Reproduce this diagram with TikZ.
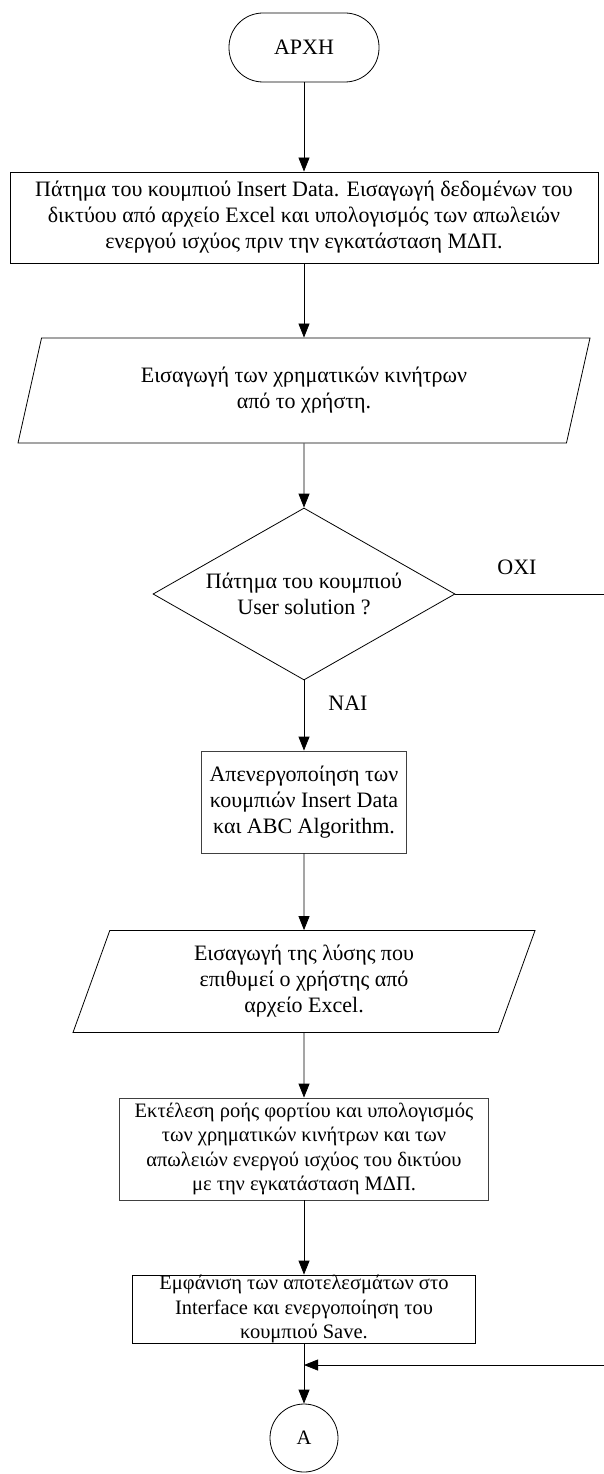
\documentclass[tikz,border=0pt]{standalone}
\usepackage{fontspec}
\setmainfont{Liberation Serif}
\usetikzlibrary{arrows.meta,shapes.geometric}

\begin{document}
\begin{tikzpicture}[x=1pt,y=-1pt,
  every node/.style={font=\fontsize{22}{26}\selectfont,align=center},
  small/.style={font=\fontsize{20.5}{24.5}\selectfont},
  flow/.style={-{Triangle[length=14pt,width=11pt]},line width=0.8pt},
  terminal/.style={draw,line width=0.8pt,rounded corners=34pt,
    minimum width=150pt,minimum height=69pt},
  process/.style={draw,line width=0.8pt,inner sep=0pt},
  inputbox/.style={draw,line width=0.8pt,trapezium,trapezium left angle=63,
    trapezium right angle=117,trapezium stretches body,inner sep=0pt},
  decision/.style={draw,line width=0.8pt,diamond,aspect=1.75,inner sep=0pt,
    minimum width=302pt,minimum height=172pt},
  connector/.style={draw,line width=0.8pt,circle,minimum size=68pt,inner sep=0pt}]
  \useasboundingbox (0,0) rectangle (604,1474);

  % main column
  \node[terminal] (start) at (304,47.5) {ΑΡΧΗ};
  \node[process,minimum width=588pt,minimum height=91pt] (insert) at (304,217.5)
    {Πάτημα του κουμπιού Insert Data. Εισαγωγή δεδομένων του\\
     δικτύου από αρχείο Excel και υπολογισμός των απωλειών\\
     ενεργού ισχύος πριν την εγκατάσταση ΜΔΠ.};
  \node[inputbox,minimum width=572pt,minimum height=105pt] (incent) at (304,390.5)
    {Εισαγωγή των χρηματικών κινήτρων\\από το χρήστη.};
  \node[decision] (userq) at (304,594) {Πάτημα του κουμπιού\\User solution ?};
  \node[process,draw=black!75,minimum width=205pt,minimum height=102pt] (lock) at (304,802)
    {Απενεργοποίηση των\\κουμπιών Insert Data\\και ABC Algorithm.};
  \node[inputbox,minimum width=462pt,minimum height=102pt] (usersol) at (304,981.5)
    {Εισαγωγή της λύσης που\\επιθυμεί ο χρήστης από\\αρχείο Excel.};
  \node[process,small,draw=black!75,minimum width=369pt,minimum height=102pt] (loadflow) at (304,1149)
    {Εκτέλεση ροής φορτίου και υπολογισμός\\των χρηματικών κινήτρων και των\\
     απωλειών ενεργού ισχύος του δικτύου\\με την εγκατάσταση ΜΔΠ.};
  \node[process,small,minimum width=343pt,minimum height=68pt] (results) at (304,1309)
    {Εμφάνιση των αποτελεσμάτων στο\\Interface και ενεργοποίηση του\\κουμπιού Save.};
  \node[connector,small] (conA) at (304,1438) {A};

  % labels and off-page ends
  \node (nolabel) at (517,567) {ΟΧΙ};
  \node (yeslabel) at (348,703) {ΝΑΙ};
  \coordinate (noexit) at (604,594);
  \coordinate (backin) at (604,1365);
  \coordinate (merge) at (304,1365);

  \draw[flow] (start) -- (insert);
  \draw[flow] (insert) -- (incent);
  \draw[flow] (incent) -- (userq);
  \draw[flow] (userq) -- (lock);
  \draw[flow] (lock) -- (usersol);
  \draw[flow] (usersol) -- (loadflow);
  \draw[flow] (loadflow) -- (results);
  \draw[line width=0.8pt] (results) -- (merge);
  \draw[flow] (merge) -- (conA);
  \draw[line width=0.8pt] (userq.east) -- (noexit);
  \draw[flow] (backin) -- (merge);
\end{tikzpicture}
\end{document}
